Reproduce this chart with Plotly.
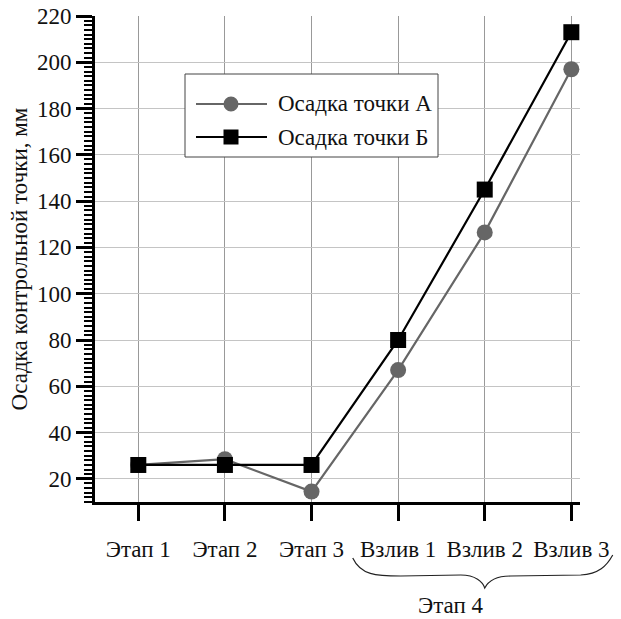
import plotly.graph_objects as go

categories = ["Этап 1", "Этап 2", "Этап 3", "Взлив 1", "Взлив 2", "Взлив 3"]
settle_a = [26, 28.5, 14.5, 67, 126.5, 197]
settle_b = [26, 26, 26, 80, 145, 213]
name_a = "Осадка точки А"
name_b = "Осадка точки Б"
y_title = "Осадка контрольной точки, мм"
group_label = "Этап 4"
y_ticks = [20, 40, 60, 80, 100, 120, 140, 160, 180, 200, 220]

FONT = "Times New Roman, Liberation Serif, Tinos, DejaVu Serif, serif"
FS = 23
COL_A = "#666666"
COL_B = "#000000"
idx = list(range(len(categories)))
X_RANGE = [-0.5, 5.1]

# plot-area geometry (figure pixels)
W, H = 621, 619
ML, MR, MT, MB = 95, 41, 16, 117
PW, PH = W - ML - MR, H - MT - MB

def px(xp):  # figure pixel x -> paper x
    return (xp - ML) / PW
def py(yp):  # figure pixel y -> paper y
    return (H - MB - yp) / PH
def cat_px(c):  # category index -> figure pixel x
    return ML + (c - X_RANGE[0]) / (X_RANGE[1] - X_RANGE[0]) * PW

fig = go.Figure()
fig.add_trace(go.Scatter(
    x=idx, y=settle_a, name=name_a, mode="lines+markers", showlegend=False,
    line=dict(color=COL_A, width=2.2),
    marker=dict(symbol="circle", size=16, color=COL_A),
))
fig.add_trace(go.Scatter(
    x=idx, y=settle_b, name=name_b, mode="lines+markers", showlegend=False,
    line=dict(color=COL_B, width=2.2),
    marker=dict(symbol="square", size=16, color=COL_B),
))

# ---- legend box (drawn) ----
lx0, lx1, ly0, ly1 = 185, 438, 74, 157
fig.add_shape(type="rect", xref="paper", yref="paper",
              x0=px(lx0), x1=px(lx1), y0=py(ly1), y1=py(ly0),
              line=dict(color="#444444", width=1), fillcolor="white", layer="above")
rows = [(name_a, COL_A, "circle", 104), (name_b, COL_B, "square", 137)]
for name, col, sym, ry in rows:
    fig.add_shape(type="line", xref="paper", yref="paper",
                  x0=px(196), x1=px(267), y0=py(ry), y1=py(ry),
                  line=dict(color=col, width=2.2), layer="above")
    kind = "circle" if sym == "circle" else "rect"
    fig.add_shape(type=kind, xref="paper", yref="paper",
                  xsizemode="pixel", ysizemode="pixel",
                  xanchor=px(231), yanchor=py(ry),
                  x0=-7.5, x1=7.5, y0=-7.5, y1=7.5,
                  line=dict(color=col, width=0), fillcolor=col, layer="above")
    fig.add_annotation(xref="paper", yref="paper", x=px(276), y=py(ry),
                       xanchor="left", yanchor="middle", showarrow=False,
                       text=name, font=dict(family=FONT, size=FS, color="#111111"))

# ---- brace under the "Взлив" group ----
c = cat_px(4)
base = H - MB  # x-axis line pixel y
def bp(dx, dy):
    return (px(c + dx), py(base + dy))
pts = [
    ("M", [bp(-132, 56)]),
    ("C", [bp(-124, 73), bp(-109, 74), bp(-84, 74)]),
    ("L", [bp(-24, 73)]),
    ("C", [bp(-9, 73), bp(-2, 80), bp(0, 86)]),
    ("C", [bp(3, 80), bp(10, 74), bp(26, 74)]),
    ("L", [bp(96, 73)]),
    ("C", [bp(114, 72), bp(122, 64), bp(128, 53)]),
]
path = " ".join(cmd + " " + " ".join(f"{x:.4f},{y:.4f}" for x, y in p) for cmd, p in pts)
fig.add_shape(type="path", path=path, xref="paper", yref="paper",
              line=dict(color="#222222", width=1.2))
fig.add_annotation(x=px(c), y=py(base + 103), xref="paper", yref="paper",
                   text=group_label, showarrow=False,
                   font=dict(family=FONT, size=FS, color="#111111"),
                   yanchor="middle")

fig.update_layout(
    width=W, height=H,
    margin=dict(l=ML, r=MR, t=MT, b=MB),
    paper_bgcolor="white", plot_bgcolor="white",
    font=dict(family=FONT, size=FS, color="#111111"),
    showlegend=False,
)
fig.update_xaxes(
    range=X_RANGE, tickmode="array", tickvals=idx, ticktext=categories,
    showline=True, linecolor="black", linewidth=3,
    ticks="outside", ticklen=16, tickwidth=2.5, tickcolor="black",
    ticklabelstandoff=8, automargin=False, ticklabeloverflow="allow",
    showgrid=True, gridcolor="#999999", gridwidth=1, zeroline=False,
)
fig.update_yaxes(
    range=[10, 220], tickmode="array", tickvals=y_ticks,
    showline=True, linecolor="black", linewidth=3,
    ticks="outside", ticklen=16, tickwidth=2.5, tickcolor="black",
    minor=dict(ticks="outside", ticklen=8, tickwidth=1.5, tickcolor="black",
               dtick=2, tick0=0, showgrid=False),
    showgrid=True, gridcolor="#c4c4c4", gridwidth=1, zeroline=False,
    automargin=False, ticklabeloverflow="allow",
    title=dict(text=y_title, font=dict(family=FONT, size=FS), standoff=3),
)

fig.write_html("out.html",
               config={"displayModeBar": False},
               post_script="document.body.style.margin='0';document.body.style.overflow='hidden';")
